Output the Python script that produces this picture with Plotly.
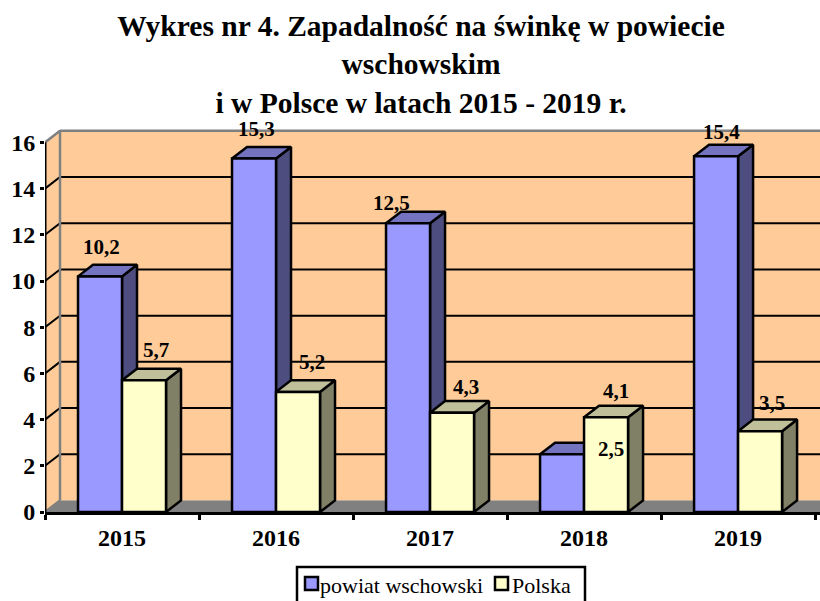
import plotly.graph_objects as go

years = ["2015", "2016", "2017", "2018", "2019"]
powiat = [10.2, 15.3, 12.5, 2.5, 15.4]
polska = [5.7, 5.2, 4.3, 4.1, 3.5]
powiat_labels = ["10,2", "15,3", "12,5", "2,5", "15,4"]
polska_labels = ["5,7", "5,2", "4,3", "4,1", "3,5"]
y_ticks = [0, 2, 4, 6, 8, 10, 12, 14, 16]

# label nudges in px (the original labels were dragged by hand)
powiat_shift = [(1, 29), (2, 30), (-17, 20), (49, 5), (5, 24)]
polska_shift = [(12, 30), (14, 30), (14, 26), (10, 26), (12, 28)]

BW = 0.2857    # bar width, in categories
DX = 15 / 154  # 3-D depth
DY = 0.5
X0, X1 = -0.5, 4.532
SERIF = "Liberation Serif"
BLACK = "#000000"
GREY = "#808080"
M_L, M_T, M_B = 45, 129, 89
W, H = 820, 601
PW, PH = W - M_L, H - M_T - M_B


def px(x):
    return (x - M_L) / PW


def py(y):
    return 1 - (y - M_T) / PH


def poly(points_list):
    xs, ys = [], []
    for pts in points_list:
        for a, b in pts:
            xs.append(a)
            ys.append(b)
        xs.append(pts[0][0])
        ys.append(pts[0][1])
        xs.append(None)
        ys.append(None)
    return xs, ys


def fill_trace(parts, color, lw=2.5, line=BLACK):
    xs, ys = poly(parts)
    return go.Scatter(x=xs, y=ys, mode="lines", fill="toself", fillcolor=color,
                      line=dict(color=line, width=lw), hoverinfo="skip", showlegend=False)


def faces(values, start):
    front, side, top = [], [], []
    for i, v in enumerate(values):
        a, b = i + start, i + start + BW
        front.append([(a, 0), (b, 0), (b, v), (a, v)])
        side.append([(b, 0), (b + DX, DY), (b + DX, v + DY), (b, v)])
        top.append([(a, v), (b, v), (b + DX, v + DY), (a + DX, v + DY)])
    return front, side, top


fig = go.Figure()
# walls and floor
fig.add_trace(fill_trace([[(X0 + DX, DY), (X1 + 1, DY), (X1 + 1, 16 + DY), (X0 + DX, 16 + DY)]], "#FFCC99", lw=0.1, line="#FFCC99"))
fig.add_trace(fill_trace([[(X0, 0), (X0 + DX, DY), (X0 + DX, 16 + DY), (X0, 16)]], "#FFCC99", lw=0.1, line="#FFCC99"))
fig.add_trace(fill_trace([[(X0, 0), (X1 + 1, 0), (X1 + 1, DY), (X0 + DX, DY)]], GREY, lw=0.1, line=GREY))

# gridlines
gx, gy = [], []
for t in y_ticks[1:-1]:
    gx += [X0, X0 + DX, X1 + 1, None]
    gy += [t, t + DY, t + DY, None]
fig.add_trace(go.Scatter(x=gx, y=gy, mode="lines", line=dict(color=BLACK, width=2), hoverinfo="skip", showlegend=False))
# grey wall edges
fig.add_trace(go.Scatter(x=[X0, X0 + DX, X0 + DX, None, X0 + DX, X1 + 1, None, X0, X0 + DX],
                         y=[16, 16 + DY, DY, None, 16 + DY, 16 + DY, None, 0, DY],
                         mode="lines", line=dict(color=GREY, width=2.5), hoverinfo="skip", showlegend=False))

bf, bs, bt = faces(powiat, -BW)
yf, ys_, yt = faces(polska, 0)
fig.add_trace(fill_trace(bs, "#4D4D80"))
fig.add_trace(fill_trace(bt, "#7373BF"))
fig.add_trace(fill_trace(bf, "#9999FF"))
fig.add_trace(fill_trace(ys_, "#808066"))
fig.add_trace(fill_trace(yt, "#BFBF99"))
fig.add_trace(fill_trace(yf, "#FFFFCC"))

# y axis line
fig.add_trace(go.Scatter(x=[X0, X0], y=[0, 16], mode="lines", cliponaxis=False,
                         line=dict(color=BLACK, width=3), hoverinfo="skip", showlegend=False))

ann = []
for i in range(len(years)):
    for vals, labs, sh, cx in ((powiat, powiat_labels, powiat_shift, i - BW / 2),
                               (polska, polska_labels, polska_shift, i + BW / 2)):
        ann.append(dict(x=cx, y=vals[i], text=labs[i], showarrow=False, xref="x", yref="y",
                        xshift=sh[i][0], yshift=sh[i][1],
                        font=dict(family=SERIF, size=21, color=BLACK, weight="bold")))

# legend, laid out as in the reference: box, swatches, names
legend_names = ["powiat wschowski", "Polska"]
legend_colors = ["#9999FF", "#FFFFCC"]
swatch_left = [305, 495]
text_left = [318, 510]
shapes = [dict(type="rect", xref="paper", yref="paper", x0=px(297), x1=px(585), y0=py(610), y1=py(567),
               fillcolor="white", line=dict(color=BLACK, width=2.5))]
for nm, col, sl, tl in zip(legend_names, legend_colors, swatch_left, text_left):
    shapes.append(dict(type="rect", xref="paper", yref="paper", x0=px(sl), x1=px(sl + 13), y0=py(590), y1=py(577),
                       fillcolor=col, line=dict(color=BLACK, width=2.5)))
    ann.append(dict(x=px(tl), y=py(585), xref="paper", yref="paper", text=nm, showarrow=False,
                    xanchor="left", yanchor="middle", font=dict(family=SERIF, size=22, color=BLACK)))

fig.update_layout(
    width=W, height=H, autosize=False,
    margin=dict(l=M_L, r=0, t=M_T, b=M_B, autoexpand=False),
    paper_bgcolor="white", plot_bgcolor="white", showlegend=False,
    title=dict(text="Wykres nr 4. Zapadalność na świnkę w powiecie<br>wschowskim<br>i w Polsce w latach 2015 - 2019 r.",
               x=421 / W, xanchor="center", y=1 - 36 / H, yanchor="top",
               font=dict(family=SERIF, size=29.5, color=BLACK, weight="bold")),
    xaxis=dict(range=[X0, X1], tickmode="array", tickvals=list(range(5)), ticktext=years, ticks="",
               showgrid=False, zeroline=False, showline=True, linecolor=BLACK, linewidth=3,
               tickfont=dict(family=SERIF, size=24, color=BLACK, weight="bold"), ticklabelstandoff=2,
               minor=dict(tickmode="array", tickvals=[i + 0.5 for i in range(-1, 5)], ticks="outside",
                          ticklen=5, tickwidth=2.5, tickcolor=BLACK, showgrid=False)),
    yaxis=dict(range=[0, 383 / 23.1], tickmode="array", tickvals=y_ticks, ticks="outside", ticklen=4, tickwidth=2.5,
               tickcolor=BLACK, showgrid=False, zeroline=False, showline=False,
               tickfont=dict(family=SERIF, size=24, color=BLACK, weight="bold")),
    annotations=ann,
    shapes=shapes,
)
fig.write_html("out.html", config={"displayModeBar": False},
               post_script="document.body.style.margin='0';document.body.style.overflow='hidden';")
